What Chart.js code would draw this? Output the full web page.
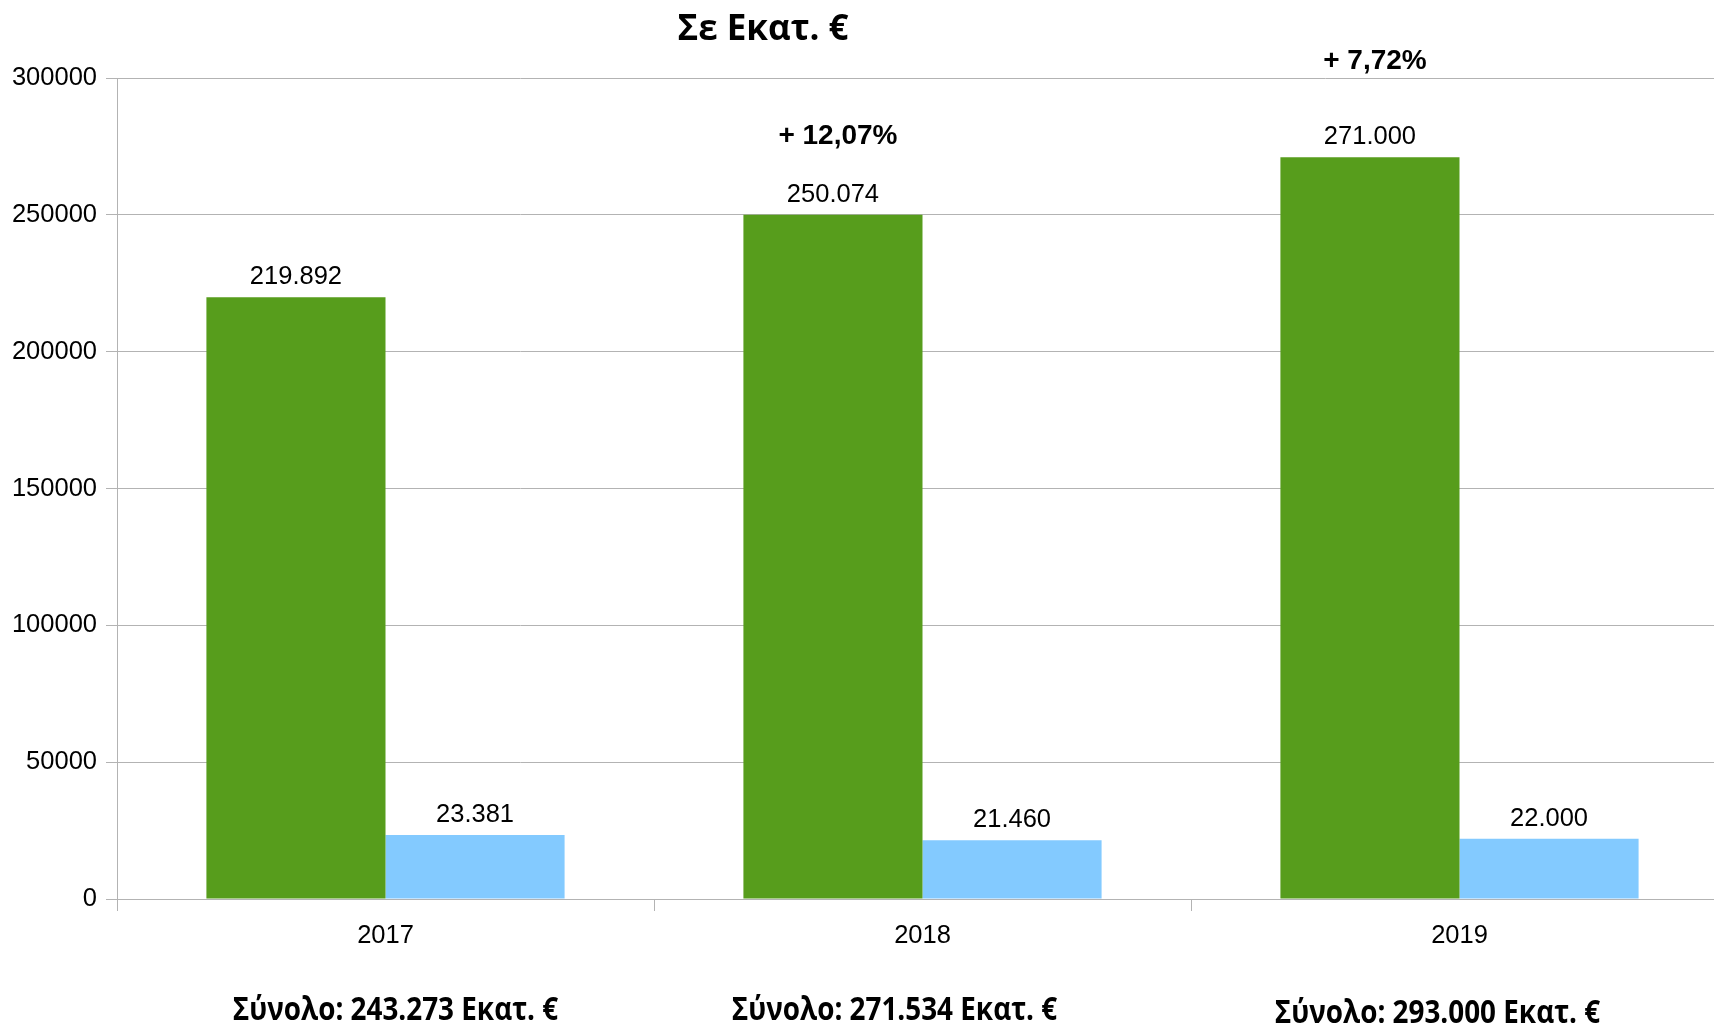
<!DOCTYPE html>
<html>
<head>
<meta charset="utf-8">
<script src="https://cdn.jsdelivr.net/npm/chart.js@4.4.1/dist/chart.umd.min.js"></script>
<style>
  html, body { margin: 0; padding: 0; background: #fff; overflow: hidden; }
  #wrap { width: 1730px; height: 1027px; }
</style>
</head>
<body>
<div id="wrap"><canvas id="myChart"></canvas></div>
<script>
// chart data
var years = ['2017', '2018', '2019'];
var greenValues = [219892, 250074, 271000];
var blueValues = [23381, 21460, 22000];
var growthLabels = ['', '+ 12,07%', '+ 7,72%'];
var yTicks = [0, 50000, 100000, 150000, 200000, 250000, 300000];
var titleText = 'Σε Εκατ. €';

// hand placed offsets for the bold notes (as in the original sheet)
var growthLift = [0, 58, 75];
var totalShift = [10, -28, -22];
var totalBase = [1020, 1020, 1023];

function fmt(n) {
    return String(n).replace(/\B(?=(\d{3})+(?!\d))/g, '.');
}

var notes = {
    id: 'notes',
    afterDatasetsDraw: function(chart) {
        var ctx = chart.ctx;
        var xs = chart.scales.x;
        ctx.save();
        ctx.fillStyle = '#000';
        ctx.textAlign = 'center';
        ctx.textBaseline = 'alphabetic';

        // value labels on top of the bars
        ctx.font = '25.5px "Liberation Sans", Arial, sans-serif';
        chart.data.datasets.forEach(function(ds, d) {
            chart.getDatasetMeta(d).data.forEach(function(bar, i) {
                ctx.fillText(fmt(ds.data[i]), bar.x, bar.y - 13);
            });
        });

        // growth notes above the green bars
        ctx.font = 'bold 28px "Liberation Sans", Arial, sans-serif';
        var greens = chart.getDatasetMeta(0).data;
        growthLabels.forEach(function(t, i) {
            if (!t) return;
            ctx.fillText(t, greens[i].x + 5, greens[i].y - 13 - growthLift[i]);
        });

        // totals under each year
        ctx.font = 'bold 32px "Open Sans", sans-serif';
        years.forEach(function(y, i) {
            var total = greenValues[i] + blueValues[i];
            var cx = xs.getPixelForValue(i) + totalShift[i];
            ctx.save();
            ctx.translate(cx, totalBase[i]);
            ctx.scale(0.87, 1);
            ctx.fillText('Σύνολο: ' + fmt(total) + ' Εκατ. €', 0, 0);
            ctx.restore();
        });

        // title
        ctx.font = 'bold 35px "Open Sans", sans-serif';
        ctx.fillText(titleText, 763, 40);
        ctx.restore();
    }
};

var ctx = document.getElementById('myChart').getContext('2d');
var myChart = new Chart(ctx, {
    type: 'bar',
    data: {
        labels: years,
        datasets: [{
            data: greenValues,
            backgroundColor: '#579d1c',
            borderWidth: 0,
            categoryPercentage: 0.667,
            barPercentage: 1
        }, {
            data: blueValues,
            backgroundColor: '#83caff',
            borderWidth: 0,
            categoryPercentage: 0.667,
            barPercentage: 1
        }]
    },
    options: {
        responsive: true,
        maintainAspectRatio: false,
        animation: false,
        devicePixelRatio: 1,
        layout: { padding: { top: 78, right: 2, left: 0, bottom: 0 } },
        plugins: {
            legend: { display: false },
            title: { display: false },
            tooltip: { enabled: false }
        },
        scales: {
            x: {
                afterFit: function(axis) { axis.height = 128; },
                grid: {
                    drawOnChartArea: false,
                    drawTicks: true,
                    tickLength: 12,
                    color: '#b3b3b3',
                    offset: true
                },
                border: { color: '#b3b3b3', width: 1 },
                ticks: {
                    color: '#000',
                    padding: 10,
                    font: { family: '"Liberation Sans", Arial, sans-serif', size: 25.5 }
                }
            },
            y: {
                min: 0,
                max: 300000,
                afterFit: function(axis) { axis.width = 117; },
                afterBuildTicks: function(axis) {
                    axis.ticks = yTicks.map(function(v) { return { value: v }; });
                },
                grid: {
                    color: '#b3b3b3',
                    lineWidth: 1,
                    tickLength: 11
                },
                border: { color: '#b3b3b3', width: 1 },
                ticks: {
                    color: '#000',
                    padding: 9,
                    font: { family: '"Liberation Sans", Arial, sans-serif', size: 25.5 },
                    callback: function(v) { return String(v); }
                }
            }
        }
    },
    plugins: [notes]
});
</script>
</body>
</html>
